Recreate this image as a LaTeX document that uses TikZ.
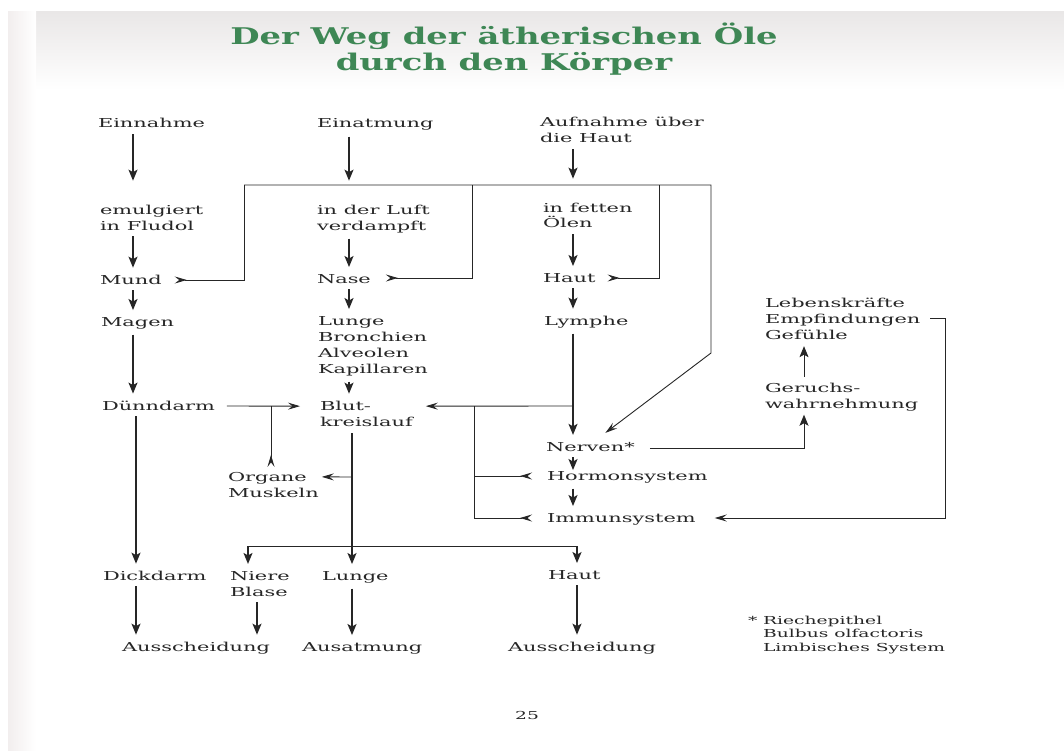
\documentclass[tikz,border=0pt]{standalone}
\usepackage{fontspec}
\setmainfont[FakeStretch=1.7]{DejaVu Serif}
\newfontfamily\titlefont[FakeStretch=1.47]{DejaVu Serif}
\usetikzlibrary{arrows.meta,calc}
\definecolor{ink}{RGB}{38,38,38}
\definecolor{titlegreen}{RGB}{62,135,85}
\definecolor{paperedge}{RGB}{233,231,231}
\definecolor{paperside}{RGB}{242,238,238}

\begin{document}
\begin{tikzpicture}[x=1pt,y=-1pt,
  every node/.style={inner sep=0pt, outer sep=0pt, anchor=base west, align=left,
    text=ink, font=\fontsize{12.3}{16}\selectfont},
  arr/.style={draw=ink, line width=1.5pt,
    arrows={-Stealth[length=11pt,width=9pt,inset=2.5pt]},
    shorten <=6pt, shorten >=7pt},
  link/.style={draw=ink, line width=0.9pt},
  sidetip/.style={arrows={-Stealth[length=12pt,width=7pt,inset=4.5pt]}},
  revstart/.style={arrows={Stealth[reversed,length=12pt,width=7pt,inset=4.5pt]-}},
  note/.style={font=\fontsize{11}{13.5}\selectfont}]

\useasboundingbox (0,0) rectangle (1064,751);
\fill[white] (0,0) rectangle (1064,751);
\shade[top color=paperedge, bottom color=white] (8,12) rectangle (1064,90);
\shade[left color=paperside, right color=white] (8,12) rectangle (36,751);

% title (a multi-line node sits on the baseline of its last line)
\node[anchor=base, align=center, text=titlegreen,
  font={\fontsize{23}{26}\selectfont\titlefont\bfseries}] (titel) at (504,71)
  {Der Weg der ätherischen Öle\\durch den Körper};

% column positions of the vertical arrows
\coordinate (k1) at (133,0);
\coordinate (k2) at (349,0);
\coordinate (k3) at (573,0);
\coordinate (kd) at (136,0);
\coordinate (kbl) at (257,0);
\coordinate (kb) at (352,0);
\coordinate (kh) at (577,0);
\coordinate (kg) at (804,0);
\coordinate (xh) at (474,0);

% stations
\node (einnahme) at (98,128) {Einnahme};
\node (einatmung) at (317,128) {Einatmung};
\node (aufnahme) at (540,143) {Aufnahme über\\die Haut};
\node (emul) at (100,230) {emulgiert\\in Fludol};
\node (luft) at (317,230) {in der Luft\\verdampft};
\node (fett) at (543,228) {in fetten\\Ölen};
\node (mund) at (100,284) {Mund};
\node (nase) at (317,283) {Nase};
\node (haut) at (543,282) {Haut};
\node (magen) at (101,326) {Magen};
\node (lunge) at (318,373) {Lunge\\Bronchien\\Alveolen\\Kapillaren};
\node (lymphe) at (544,325) {Lymphe};
\node (leben) at (765,339) {Lebenskräfte\\Empfindungen\\Gefühle};
\node (geruch) at (765,408) {Geruchs-\\wahrnehmung};
\node (duenn) at (102,410) {Dünndarm};
\node (blut) at (320,426) {Blut-\\kreislauf};
\node (nerven) at (546,451) {Nerven*};
\node (hormon) at (547,480) {Hormonsystem};
\node (organe) at (228,497) {Organe\\Muskeln};
\node (immun) at (547,522) {Immunsystem};
\node (dick) at (103,580) {Dickdarm};
\node (niere) at (230,596) {Niere\\Blase};
\node (lungeB) at (322,580) {Lunge};
\node (hautB) at (548,579) {Haut};
\node (aus1) at (122,651) {Ausscheidung};
\node (ausat) at (302,651) {Ausatmung};
\node (aus2) at (508,651) {Ausscheidung};

% footnote and page number
\node[note] (stern) at (748,624) {*};
\node[note] (fuss) at (763,651) {Riechepithel\\Bulbus olfactoris\\Limbisches System};
\node[note, anchor=base] (seite) at (527,719) {25};

% straight vertical arrows
\draw[arr, shorten >=24pt] (einnahme.south -| k1) -- (emul.north -| k1);
\draw[arr, shorten >=24pt] (einatmung.south -| k2) -- (luft.north -| k2);
\draw[arr, shorten >=24pt] (aufnahme.south -| k3) -- (fett.north -| k3);
\draw[arr] (emul.south -| k1) -- (mund.north -| k1);
\draw[arr] (luft.south -| k2) -- (nase.north -| k2);
\draw[arr] (fett.south -| k3) -- (haut.north -| k3);
\draw[arr] (mund.south -| k1) -- (magen.north -| k1);
\draw[arr] (nase.south -| k2) -- (lunge.north -| k2);
\draw[arr] (haut.south -| k3) -- (lymphe.north -| k3);
\draw[arr] (magen.south -| k1) -- (duenn.north -| k1);
\draw[arr] (lunge.south -| k2) -- (blut.north -| k2);
\draw[arr] (lymphe.south -| k3) -- (nerven.north -| k3);
\draw[arr, shorten >=1pt] (nerven.south -| k3) -- (hormon.north -| k3);
\draw[arr] (hormon.south -| k3) -- (immun.north -| k3);
\draw[arr] (duenn.south -| kd) -- (dick.north -| kd);
\draw[arr, shorten <=7pt] (blut.south -| kb) -- (lungeB.north -| kb);
\draw[arr] (dick.south -| kd) -- (aus1.north -| kd);
\draw[arr] (niere.south -| kbl) -- (aus1.north -| kbl);
\draw[arr] (lungeB.south -| kb) -- (ausat.north -| kb);
\draw[arr] (hautB.south -| kh) -- (aus2.north -| kh);
\draw[arr, line width=0.9pt] (geruch.north -| kg) -- (leben.south -| kg);

% collecting line at the top and its branches
\coordinate (t1) at (244,185);
\coordinate (t2) at (472,185);
\coordinate (t3) at (659,185);
\coordinate (t4) at (711,185);
\coordinate (t5) at (711,353);
\draw[link, revstart] ($(mund.base east)+(13,-4)$) -| (t1);
\draw[link, revstart] ($(nase.base east)+(15,-5)$) -| (t2);
\draw[link, revstart] ($(haut.base east)+(12,-4)$) -| (t3);
\draw[link, sidetip] (t1) -- (t4) -- (t5) -- ($(nerven.north)+(15,-9)$);

% small intestine to blood circulation, organs
\coordinate (od) at (271,406);
\draw[link, sidetip] ($(duenn.base east)+(12,-4)$) -- ($(blut.north west)+(-20,5.5)$);
\draw[link, revstart] ($(organe.north -| od)+(0,-5)$) -- (od);
\coordinate (bo) at (352,477);
\draw[link, sidetip] (bo) -- ($(organe.north east)+(3,5)$);

% lymph to blood, hormone and immune system
\coordinate (lb) at (573,406);
\draw[link, sidetip] (lb) -- ($(blut.north east)+(13,5.5)$);
\draw[link, revstart] ($(hormon.base west)+(-15,-4)$) coordinate (hs) -- (hs -| xh);
\draw[link, revstart] ($(immun.base west)+(-15,-4)$) coordinate (is) -- (is -| xh);
\draw[link] (lb -| xh) -- (is -| xh);

% excretion branches
\coordinate (vn) at (248,546);
\coordinate (vh) at (577,546);
\draw[link] (vn) -- (vh);
\draw[arr, shorten <=0pt] (vn) -- (niere.north -| vn);
\draw[arr, shorten <=0pt] (vh) -- (hautB.north -| vh);

% nerves to smell perception, vital forces back to immune system
\draw[link, arrows={-Stealth[length=11pt,width=9pt,inset=2.5pt]}]
  ($(nerven.base east)+(15,-3)$) -| ($(geruch.south -| kg)+(0,4)$);
\draw[link, sidetip] ($(leben.east)+(10,0)$) -- ++(15,0) |- ($(immun.base east)+(19,-4)$);
\end{tikzpicture}
\end{document}
